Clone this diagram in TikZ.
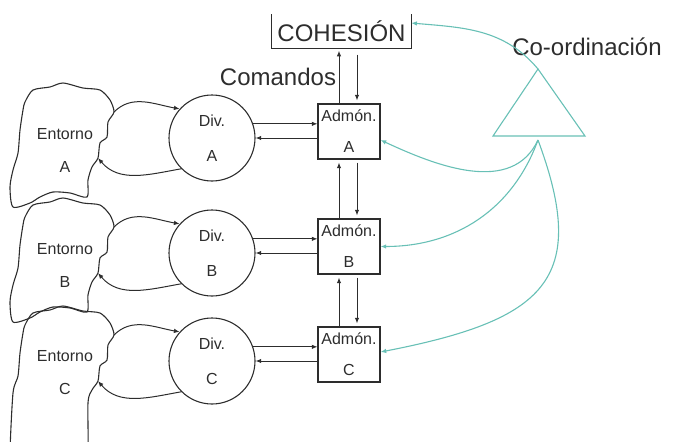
\documentclass[tikz,border=0pt]{standalone}
\usepackage{fontspec}
\setmainfont{Liberation Sans}
\usetikzlibrary{arrows.meta}
\definecolor{coord}{RGB}{104,192,182}
\definecolor{ink}{RGB}{45,45,45}
\tikzset{
  Arrow1/.style = {
    draw = ink, line width = 1pt,
    -{Latex[length = 2mm, width = 1.6mm]},
  },
  Arrow2/.style = {
    draw = coord, line width = 1.1pt,
    -{Latex[length = 2mm, width = 1.6mm]},
  },
  Div1/.style = {circle, draw = ink, line width = 1.1pt, minimum size = 86pt, inner sep = 0pt,
    align = center, text = ink, font = \fontsize{16}{19}\selectfont},
  Adm1/.style = {rectangle, draw = ink, line width = 1.1pt, minimum width = 62pt, minimum height = 55pt,
    inner sep = 1pt, align = center, text = ink, font = \fontsize{16}{19}\selectfont},
  Ent1/.style = {align = center, text = ink, font = \fontsize{16}{19}\selectfont},
  Blob1/.style = {draw = ink, line width = 1.1pt},
  Big1/.style = {inner sep = 0pt, text = ink, font = \fontsize{24}{28}\selectfont}
}

\begin{document}
\begin{tikzpicture}[x = 1pt, y = 1pt]
      \useasboundingbox (0,0) rectangle (673,-442);
      \clip (0,0) rectangle (673,-442);
      \foreach \r/\dy/\ext in {A/0/0, B/115/0, C/223/45}{
        \begin{scope}[yshift = -\dy pt]
          \draw[Blob1] plot[smooth cycle, tension = 0.45] coordinates {(25,-102) (33,-90) (50,-87) (63,-83)
            (83,-88) (100,-90) (110,-100) (114,-112) (108,-122) (107,-137) (100,-143) (98,-158) (92,-167)
            (88,-180) (87,{-197-\ext}) (70,{-193-\ext}) (53,{-192-\ext}) (40,{-197-\ext}) (30,{-203-\ext})
            (13,{-207-\ext}) (10,{-187-\ext}) (13,-170) (18,-153) (20,-130) (23,-110)};
          \node[Ent1] (ent\r) at (65,-150) {Entorno\\[14pt]\r};
          \coordinate (entout\r) at (114,-112);
          \coordinate (entin\r) at (98,-158);
          \node[Div1] (div\r) at (212,-138) {Div.\\[16pt]\r};
          \node[Adm1] (adm\r) at (349,-131.5) {Admón.\\[12pt]\r};
        \end{scope}
        \draw[Arrow1] (entout\r) to[out = 45, in = 170] (div\r.138);
        \draw[Arrow1] (div\r.225) to[out = 190, in = -50] (entin\r);
        \draw[Arrow1] (div\r.19) -- (div\r.19 -| adm\r.west);
        \draw[Arrow1] (div\r.east -| adm\r.west) -- (div\r.east);
      }
      \foreach \u/\l in {A/B, B/C}{
        \draw[Arrow1, shorten > = 3pt] ([xshift = -10pt]adm\l.north) -- ([xshift = -10pt]adm\u.south);
        \draw[Arrow1, shorten < = 3pt, shorten > = 3pt] ([xshift = 8pt]adm\u.south) -- ([xshift = 8pt]adm\l.north);
      }
      \node[Big1, minimum width = 139pt, minimum height = 34pt] (coh) at (341.5,-31.5) {COHESIÓN};
      \draw[ink, line width = 1.1pt] (coh.north west) -- (coh.south west) -- (coh.south east) -- (coh.north east);
      \node[Big1] (cmd) at (278,-77) {Comandos};
      \draw[Arrow1, shorten > = 2pt] ([xshift = -10pt]admA.north) -- ([xshift = -10pt]admA.north |- coh.south);
      \draw[Arrow1, shorten < = 6pt, shorten > = 3pt] ([xshift = 8pt]admA.north |- coh.south) -- ([xshift = 8pt]admA.north);
      \node[Big1] (coo) at (587,-47) {Co-ordinación};
      \draw[coord, line width = 1.1pt] (538,-69) coordinate (apex) -- (493,-136) -- (585,-136) -- cycle;
      \coordinate (tri) at (538,-140);
      \draw[Arrow2] (apex) to[out = 130, in = -5] ([yshift = 8.5pt]coh.east);
      \draw[Arrow2] (tri) to[out = 245, in = -25] ([yshift = -8.5pt]admA.east);
      \draw[Arrow2] (tri) to[out = 250, in = 0] (admB.east);
      \draw[Arrow2] (tri) .. controls (590,-280) and (545,-320) .. ([yshift = 2.5pt]admC.east);
    \end{tikzpicture}
\end{document}
